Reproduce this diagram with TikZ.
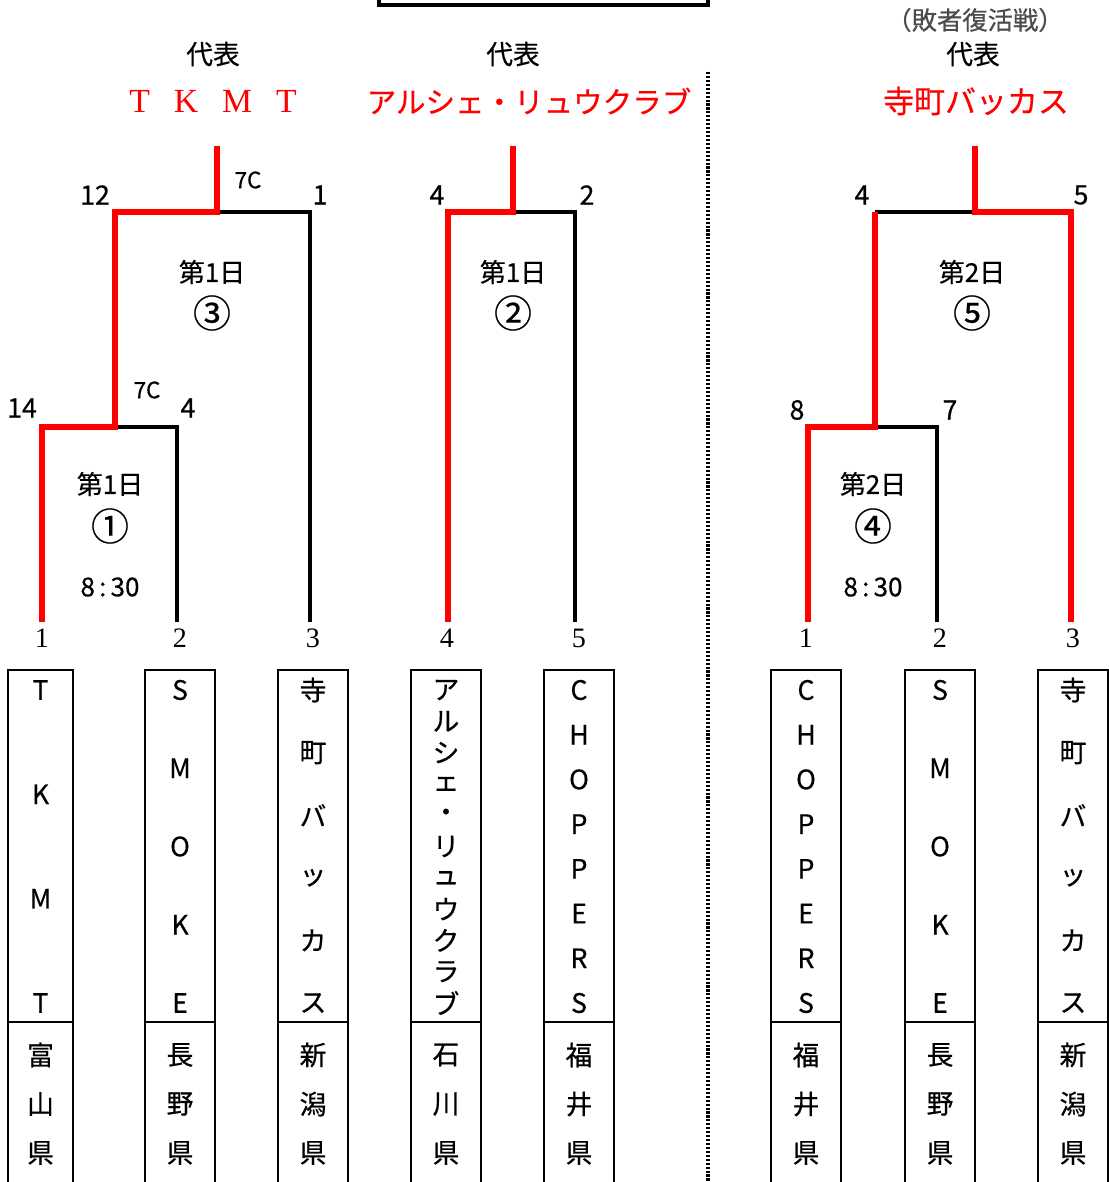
\documentclass[tikz,border=0pt]{standalone}
\usepackage{fontspec}
\setmainfont{Liberation Serif}
\newfontfamily\gothic{Noto Sans CJK JP}[FakeBold=0.5]
\usetikzlibrary{positioning}
\definecolor{winred}{RGB}{255,0,0}

\tikzset{
  brkt/.style={line width=2.3pt, black},
  win/.style={line width=4.3pt, winred},
  teambox/.style={draw, line width=0.8pt},
  lbl/.style={font=\gothic\fontsize{19}{19}\selectfont, inner sep=0pt},
  score/.style={font=\gothic\fontsize{19}{19}\selectfont, inner sep=0pt},
  cnote/.style={font=\gothic\fontsize{16}{16}\selectfont, inner sep=0pt},
  day/.style={font=\gothic\fontsize{18.5}{18.5}\selectfont, inner sep=0pt},
  circ/.style={font=\gothic\fontsize{27}{27}\selectfont, inner sep=0pt},
  slot/.style={font=\fontsize{20}{20}\selectfont, inner sep=0pt},
  chr/.style={font=\gothic\fontsize{19}{19}\selectfont, inner sep=0pt},
  rep/.style={font=\gothic\fontsize{21}{21}\selectfont, text=winred, inner sep=0pt},
}

\newcommand{\team}[6]{%
  \draw[teambox] (#2,670) rectangle (#3,1200);
  \draw[teambox] (#2,1022) -- (#3,1022);
  \foreach \ch [count=\i] in {#5}
    \node[chr] (#1n\i) at ({(#2+#3)/2}, {690+(\i-1)*313/(#4-1)}) {\ch};
  \foreach \ch [count=\i] in {#6}
    \node[chr] (#1p\i) at ({(#2+#3)/2}, {1055+(\i-1)*49}) {\ch};
}

\begin{document}
\begin{tikzpicture}[x=0.025cm, y=-0.025cm]
\useasboundingbox (0,0) rectangle (1109,1182);
\clip (0,0) rectangle (1109,1182);

\draw[line width=2.3pt] (379,-20) rectangle (708,5);
\draw[line width=2.4pt, dash pattern=on 1.5pt off 1.3pt] (708,72) -- (708,1195);

\node[lbl] (rep1) at (213,54) {代表};
\node[lbl] (rep2) at (513,54) {代表};
\node[lbl] (rep3) at (973,54) {代表};
\node[font=\gothic\fontsize{18}{18}\selectfont, text=black!70, inner sep=0pt] (loser) at (975,20) {（敗者復活戦）};
\node[rep, font=\fontsize{24}{24}\selectfont] (win1) at (213,101) {T\hspace{17pt}K\hspace{17pt}M\hspace{17pt}T};
\node[rep] (win2) at (529,101) {アルシェ・リュウクラブ};
\node[rep, font=\gothic\fontsize{22}{22}\selectfont] (win3) at (976,101) {寺町バッカス};

\coordinate (A1) at (42,622);
\coordinate (A2) at (177,622);
\coordinate (A3) at (310,622);
\coordinate (m1) at (115,427);
\coordinate (m3) at (217,212);
\coordinate (w3) at (217,146);
\draw[brkt] (A2) |- (m1);
\draw[brkt] (A3) |- (m3);
\draw[win] (A1) |- (m1) |- (m3) -- (w3);

\coordinate (B4) at (448,622);
\coordinate (B5) at (575,622);
\coordinate (m2) at (513,212);
\coordinate (w2) at (513,146);
\draw[brkt] (B5) |- (m2);
\draw[win] (B4) |- (m2) -- (w2);

\coordinate (C1) at (808,622);
\coordinate (C2) at (937,622);
\coordinate (C3) at (1071,622);
\coordinate (m4) at (875,427);
\coordinate (m4t) at (875,212);
\coordinate (m5) at (975,212);
\coordinate (w5) at (975,146);
\draw[brkt] (C2) |- (m4);
\draw[brkt] (m4t) -- (m5);
\draw[win] (C1) |- (m4) -- (m4t);
\draw[win] (C3) |- (m5) -- (w5);

\node[score] (s14) at (22,408) {14};
\node[score] (s4a) at (188,408) {4};
\node[cnote] (c7a) at (147,390) {7C};
\node[score] (s12) at (95,195) {12};
\node[score] (s1a) at (320,195) {1};
\node[cnote] (c7b) at (248,180) {7C};
\node[score] (s4b) at (437,195) {4};
\node[score] (s2b) at (587,195) {2};
\node[score] (s8) at (797,410) {8};
\node[score] (s7) at (950,410) {7};
\node[score] (s4c) at (862,195) {4};
\node[score] (s5c) at (1081,195) {5};

\node[day] (d1) at (110,484) {第1日};
\node[circ] (g1) at (110,526) {①};
\node[day] (t1) at (110,587) {8\hspace{3pt}:\hspace{3pt}30};
\node[day] (d3) at (212,272) {第1日};
\node[circ] (g3) at (212,313) {③};
\node[day] (d2) at (513,272) {第1日};
\node[circ] (g2) at (513,313) {②};
\node[day] (d4) at (873,484) {第2日};
\node[circ] (g4) at (873,526) {④};
\node[day] (t4) at (873,587) {8\hspace{3pt}:\hspace{3pt}30};
\node[day] (d5) at (972,272) {第2日};
\node[circ] (g5) at (972,313) {⑤};

\node[slot] (n1) at (42,638) {1};
\node[slot] (n2) at (180,638) {2};
\node[slot] (n3) at (313,638) {3};
\node[slot] (n4) at (447,638) {4};
\node[slot] (n5) at (579,638) {5};
\node[slot] (n6) at (806,638) {1};
\node[slot] (n7) at (940,638) {2};
\node[slot] (n8) at (1073,638) {3};

\team{a}{8}{73}{4}{T,K,M,T}{富,山,県}
\team{b}{145}{215}{5}{S,M,O,K,E}{長,野,県}
\team{c}{278}{348}{6}{寺,町,バ,ッ,カ,ス}{新,潟,県}
\team{d}{411}{481}{11}{ア,ル,シ,ェ,・,リ,ュ,ウ,ク,ラ,ブ}{石,川,県}
\team{e}{544}{614}{8}{C,H,O,P,P,E,R,S}{福,井,県}
\team{f}{771}{841}{8}{C,H,O,P,P,E,R,S}{福,井,県}
\team{g}{905}{975}{5}{S,M,O,K,E}{長,野,県}
\team{h}{1038}{1108}{6}{寺,町,バ,ッ,カ,ス}{新,潟,県}
\end{tikzpicture}
\end{document}
